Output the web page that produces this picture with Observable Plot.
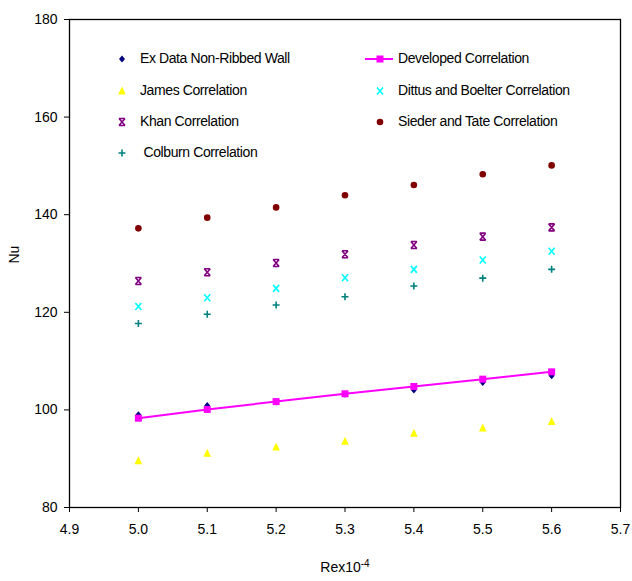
<!DOCTYPE html>
<html><head><meta charset="utf-8">
<script src="https://cdn.jsdelivr.net/npm/d3@7"></script>
<script src="https://cdn.jsdelivr.net/npm/@observablehq/plot@0.6"></script>
<style>
body{margin:0;background:#fff;font-family:"Liberation Sans",Arial,sans-serif;}
#wrap{position:relative;width:632px;height:581px;}
.leg{position:absolute;font-size:14px;letter-spacing:-0.4px;line-height:16px;white-space:nowrap;color:#000}
.ico{position:absolute;overflow:visible}
</style></head><body><div id="wrap"></div>
<script>
// Data
const re        = [5.0, 5.1, 5.2, 5.3, 5.4, 5.5, 5.6];
const exData    = [99.0, 100.9, 101.6, 103.2, 104.1, 105.6, 107.0];
const developed = [98.3, 100.1, 101.7, 103.3, 104.8, 106.3, 107.8];
const james     = [89.6, 91.1, 92.4, 93.6, 95.2, 96.3, 97.6];
const dittus    = [121.2, 123.0, 124.9, 127.1, 128.8, 130.7, 132.5];
const khan      = [126.4, 128.2, 130.1, 131.9, 133.8, 135.5, 137.4];
const sieder    = [137.2, 139.4, 141.5, 144.0, 146.1, 148.3, 150.1];
const colburn   = [117.7, 119.6, 121.5, 123.2, 125.4, 127.0, 128.8];
const xTicks = [4.9, 5.0, 5.1, 5.2, 5.3, 5.4, 5.5, 5.6, 5.7];
const yTicks = [80, 100, 120, 140, 160, 180];
const seriesNames = ["Ex Data Non-Ribbed Wall", "Developed Correlation", "James Correlation",
  "Dittus and Boelter Correlation", "Khan Correlation", "Sieder and Tate Correlation", "Colburn Correlation"];
const xLabel = "Rex10";
const xLabelSup = "-4";
const yLabel = "Nu";

// symbols (fixed pixel size)
const sym = {
  diamond: {draw(c){c.moveTo(0,-3.5);c.lineTo(3,0);c.lineTo(0,3.5);c.lineTo(-3,0);c.closePath();}},
  square: {draw(c){c.moveTo(-3.5,-3.5);c.lineTo(3.5,-3.5);c.lineTo(3.5,3.5);c.lineTo(-3.5,3.5);c.closePath();}},
  triangle: {draw(c){c.moveTo(0,-4.5);c.lineTo(3.8,3.5);c.lineTo(-3.8,3.5);c.closePath();}},
  times: {draw(c){c.moveTo(-3,-3.5);c.lineTo(3,3.5);c.moveTo(-3,3.5);c.lineTo(3,-3.5);}},
  plus: {draw(c){c.moveTo(-3.5,0);c.lineTo(3.5,0);c.moveTo(0,-3.5);c.lineTo(0,3.5);}},
  star: {draw(c){c.moveTo(-3,-3.5);c.lineTo(3,3.5);c.moveTo(-3,3.5);c.lineTo(3,-3.5);c.moveTo(-3,-3.5);c.lineTo(3,-3.5);c.moveTo(-3,3.5);c.lineTo(3,3.5);}},
  circle: {draw(c){c.moveTo(3.3,0);c.arc(0,0,3.3,0,2*Math.PI);c.closePath();}}
};

const rows = (vals) => re.map((x, i) => ({x, y: vals[i]}));

const plot = Plot.plot({
  width: 632, height: 581,
  marginLeft: 69, marginRight: 12, marginTop: 19, marginBottom: 74,
  style: {fontFamily: "'Liberation Sans', Arial, sans-serif", fontSize: "14px", background: "#fff", color: "#000"},
  x: {domain: [4.9, 5.7]},
  y: {domain: [80, 180]},
  marks: [
    Plot.frame({stroke: "#000", strokeWidth: 1.3}),
    Plot.axisY({ticks: yTicks, tickSize: 5, tickPadding: 7, label: null, fontSize: 14}),
    Plot.axisX({ticks: xTicks, tickFormat: d3.format(".1f"), tickSize: 5, tickPadding: 12, label: null, fontSize: 14}),
    Plot.dot(rows(exData), {x: "x", y: "y", symbol: sym.diamond, fill: "#000080", stroke: "none"}),
    Plot.line(rows(developed), {x: "x", y: "y", stroke: "#FF00FF", strokeWidth: 2}),
    Plot.dot(rows(developed), {x: "x", y: "y", symbol: sym.square, fill: "#FF00FF", stroke: "none"}),
    Plot.dot(rows(james), {x: "x", y: "y", symbol: sym.triangle, fill: "#FFFF00", stroke: "none"}),
    Plot.dot(rows(dittus), {x: "x", y: "y", symbol: sym.times, fill: "none", stroke: "#00FFFF", strokeWidth: 1.6}),
    Plot.dot(rows(khan), {x: "x", y: "y", symbol: sym.star, fill: "none", stroke: "#800080", strokeWidth: 1.6}),
    Plot.dot(rows(sieder), {x: "x", y: "y", symbol: sym.circle, fill: "#800000", stroke: "none"}),
    Plot.dot(rows(colburn), {x: "x", y: "y", symbol: sym.plus, fill: "none", stroke: "#008080", strokeWidth: 1.6}),
    Plot.text([yLabel], {frameAnchor: "left", dx: -55, rotate: -90, fontSize: 14}),
    Plot.text([xLabel], {frameAnchor: "bottom", dy: 64, fontSize: 14, className: "xlab"})
  ]
});

const wrap = document.getElementById("wrap");
wrap.appendChild(plot);

// superscript on x label
d3.select(plot).selectAll("text").filter(function(){return this.textContent === xLabel;})
  .append("tspan").attr("baseline-shift", "super").attr("font-size", 10).text(xLabelSup);

// Legend (HTML overlay)
const legendItems = [
  {name: seriesNames[0], s: "diamond", fill: "#000080", col: 0, row: 0},
  {name: seriesNames[1], s: "square", fill: "#FF00FF", col: 1, row: 0, line: true},
  {name: seriesNames[2], s: "triangle", fill: "#FFFF00", col: 0, row: 1},
  {name: seriesNames[3], s: "times", stroke: "#00FFFF", col: 1, row: 1},
  {name: seriesNames[4], s: "star", stroke: "#800080", col: 0, row: 2},
  {name: seriesNames[5], s: "circle", fill: "#800000", col: 1, row: 2},
  {name: " " + seriesNames[6], s: "plus", stroke: "#008080", col: 0, row: 3}
];
const rowY = [59, 90.5, 121.5, 153];
const colSymX = [122, 380];
const colTextX = [140, 398];
for (const it of legendItems) {
  const cy = rowY[it.row], cx = colSymX[it.col];
  const svg = d3.create("svg").attr("class", "ico").attr("width", 40).attr("height", 20)
    .style("left", (cx - 20) + "px").style("top", (cy - 10) + "px");
  const g = svg.append("g").attr("transform", "translate(20,10)");
  if (it.line) g.append("line").attr("x1", -15).attr("x2", 13).attr("stroke", "#FF00FF").attr("stroke-width", 2);
  const p = d3.path(); sym[it.s].draw(p);
  g.append("path").attr("d", p.toString())
    .attr("fill", it.fill || "none").attr("stroke", it.stroke || "none").attr("stroke-width", 1.6);
  wrap.appendChild(svg.node());
  const div = document.createElement("div");
  div.className = "leg";
  div.style.left = colTextX[it.col] + "px";
  div.style.top = (cy - 9) + "px";
  div.style.whiteSpace = "pre";
  div.textContent = it.name;
  wrap.appendChild(div);
}
</script>
</body></html>
